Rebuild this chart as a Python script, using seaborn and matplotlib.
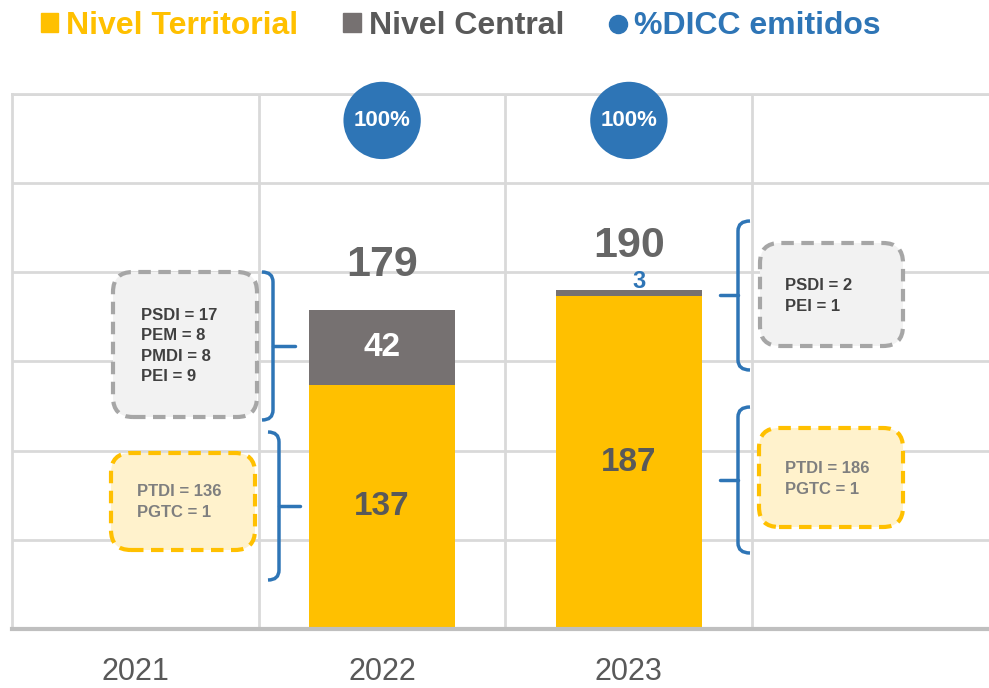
import matplotlib
matplotlib.use("Agg")
import matplotlib.pyplot as plt
import matplotlib.patches as mpatches
from matplotlib.lines import Line2D
from matplotlib.path import Path
import numpy as np
import pandas as pd
import seaborn as sns

# --- data ---
columnas = ["2021", "2022", "2023", ""]
anios = ["2022", "2023"]
territorial = [137, 187]
central = [42, 3]
pct_dicc = [100, 100]

detalle_central = ["PSDI = 17\nPEM = 8\nPMDI = 8\nPEI = 9", "PSDI = 2\nPEI = 1"]
detalle_territorial = ["PTDI = 136\nPGTC = 1", "PTDI = 186\nPGTC = 1"]

GOLD = "#FFC000"
GREY = "#767171"
BLUE = "#2E75B6"
TXT = "#595959"
NARROW = ["Liberation Sans Narrow", "Liberation Sans", "DejaVu Sans"]

sns.set_theme(style="white")
plt.rcParams["font.family"] = NARROW

df = pd.DataFrame({"anio": anios, "territorial": territorial, "central": central})
df["total"] = df["territorial"] + df["central"]

W, H = 989, 688
fig = plt.figure(figsize=(W / 100, H / 100), dpi=100)
ax = fig.add_axes([12 / W, (H - 629) / H, 987 / W, 535 / H])

# stacked bars: total underneath, territorial on top
sns.barplot(data=df, x="anio", y="total", order=columnas, color=GREY,
            width=0.59, errorbar=None, saturation=1, ax=ax)
sns.barplot(data=df, x="anio", y="territorial", order=columnas, color=GOLD,
            width=0.59, errorbar=None, saturation=1, ax=ax)
for p in ax.patches:
    p.set_edgecolor("none")

ax.set_ylim(0, 300)
ax.set_xlim(-0.5, 3.5)
ax.set_yticks(range(0, 301, 50))
ax.set_yticklabels([])
ax.set_xticks(np.arange(0.5, 3, 1), minor=True)
ax.set_axisbelow(True)
ax.yaxis.grid(True, color="#D9D9D9", lw=2)
ax.xaxis.grid(True, which="minor", color="#D9D9D9", lw=2)
ax.xaxis.grid(False, which="major")
ax.tick_params(axis="both", which="both", length=0)
ax.tick_params(axis="x", pad=20, labelsize=22, labelcolor=TXT)
ax.set_xlabel("")
ax.set_ylabel("")
for s in ["left", "top"]:
    ax.spines[s].set_color("#D9D9D9")
    ax.spines[s].set_linewidth(2)
ax.spines["right"].set_visible(False)
ax.spines["bottom"].set_color("#BFBFBF")
ax.spines["bottom"].set_linewidth(3)

# value labels
for _, r in df.iterrows():
    i = columnas.index(r["anio"])
    ax.text(i, r["total"] + 25, f"{r['total']}", ha="center", va="center",
            fontsize=31, fontweight="bold", color="#666666")
    ax.text(i, r["territorial"] / 2, f"{r['territorial']}", ha="center", va="center",
            fontsize=24, fontweight="bold", color=TXT)
    if r["central"] >= 10:
        ax.text(i, r["territorial"] + r["central"] / 2, f"{r['central']}", ha="center",
                va="center", fontsize=24, fontweight="bold", color="white")
    else:
        ax.text(i + 0.04, r["total"] + 5, f"{r['central']}", ha="center", va="center",
                fontsize=17, fontweight="bold", color=BLUE)

# % DICC circles on a secondary axis
ax2 = ax.twinx()
pos = [columnas.index(a) for a in anios]
sns.scatterplot(x=pos, y=pct_dicc, s=3100, color=BLUE, edgecolor="none", ax=ax2,
                legend=False, clip_on=False)
for x, v in zip(pos, pct_dicc):
    ax2.text(x, v, f"{v}%", ha="center", va="center", fontsize=16,
             fontweight="bold", color="white")
ax2.set_ylim(0, 105.2)
ax2.set_xlim(-0.5, 3.5)
ax2.axis("off")

# --- annotations in pixel coordinates (top-left origin) ---
T = fig.dpi_scale_trans


def px(x, y):
    return x / 100, (H - y) / 100


def caja(x0, y0, x1, y1, face, edge):
    a = px(x0, y1)
    box = mpatches.FancyBboxPatch(a, (x1 - x0) / 100, (y1 - y0) / 100,
                                  boxstyle="round,pad=0,rounding_size=0.2",
                                  facecolor=face, edgecolor=edge, lw=3,
                                  linestyle=(0, (3, 1.8)), transform=T)
    fig.add_artist(box)


def llave(x_end, x_line, y_top, y_bot, x_tick, y_mid):
    r = 10
    verts = [px(x_end, y_top), px(x_line, y_top), px(x_line, y_top + r),
             px(x_line, y_bot - r), px(x_line, y_bot), px(x_end, y_bot)]
    codes = [Path.MOVETO, Path.CURVE3, Path.CURVE3, Path.LINETO, Path.CURVE3, Path.CURVE3]
    fig.add_artist(mpatches.PathPatch(Path(verts, codes), fill=False, edgecolor=BLUE,
                                      lw=2.5, transform=T))
    fig.add_artist(Line2D(*zip(px(x_line, y_mid), px(x_tick, y_mid)), color=BLUE,
                          lw=2.5, transform=T))


caja(113, 272, 257, 417, "#F2F2F2", "#A6A6A6")
caja(111, 453, 255, 550, "#FFF2CC", GOLD)
caja(760, 243, 903, 346, "#F2F2F2", "#A6A6A6")
caja(759, 428, 903, 527, "#FFF2CC", GOLD)

box_font = dict(transform=T, va="center", ha="left", fontsize=12,
                fontweight="bold", linespacing=1.45)
fig.text(*px(141, 346), detalle_central[0], color="#404040", **box_font)
fig.text(*px(137, 502), detalle_territorial[0], color="#7F7F7F", **box_font)
fig.text(*px(785, 296), detalle_central[1], color="#404040", **box_font)
fig.text(*px(785, 479), detalle_territorial[1], color="#7F7F7F", **box_font)

llave(262, 273, 272, 420, 295, 346)
llave(268, 279, 432, 580, 300, 506)
llave(750, 738, 221, 370, 720, 295)
llave(750, 738, 407, 553, 720, 480)

# legend
handles = [mpatches.Patch(color=GOLD), mpatches.Patch(color=GREY),
           Line2D([], [], marker="o", color=BLUE, ls="none", markersize=13)]
fig.legend(handles, ["Nivel Territorial", "Nivel Central", "%DICC emitidos"],
           loc="center", bbox_to_anchor=(0.466, 0.962), ncol=3, frameon=False,
           labelcolor=[GOLD, TXT, BLUE], handlelength=0.55, handleheight=0.55,
           handletextpad=0.25, columnspacing=1.4,
           prop={"family": NARROW, "weight": "bold", "size": 23})

fig.savefig("out.png", dpi=100)
